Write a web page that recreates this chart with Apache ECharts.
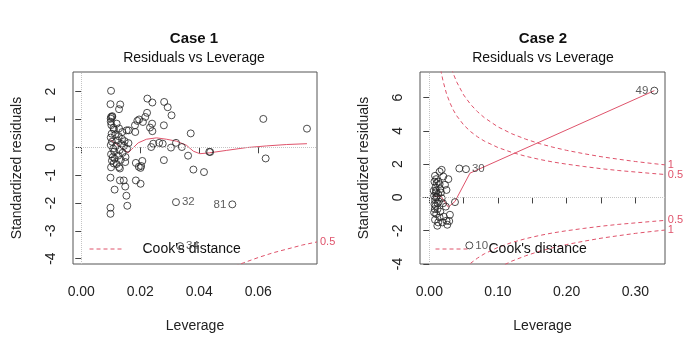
<!DOCTYPE html>
<html><head><meta charset="utf-8">
<script src="https://cdn.jsdelivr.net/npm/echarts@6/dist/echarts.min.js"></script>
<style>html,body{margin:0;padding:0;background:#fff}#c{width:694px;height:348px}</style>
</head><body><div id="c"></div><script>
// ---------- data ----------
const panelTitles = ['Case 1', 'Case 2'];
const subTitle = 'Residuals vs Leverage';
const xName = 'Leverage';
const yName = 'Standardized residuals';
const legendName = "Cook's distance";

const case1XTicks = [0, 0.02, 0.04, 0.06];
const case1YTicks = [-4, -3, -2, -1, 0, 1, 2];
const case2XTicks = [0, 0.05, 0.10, 0.15, 0.20, 0.25, 0.30];
const case2XLabels = [0, 0.10, 0.20, 0.30];
const case2YTicks = [-4, -2, 0, 2, 4, 6];

const case1Points = [
 [0.0101,2.03],[0.0099,1.55],[0.0132,1.54],[0.0128,1.37],[0.0101,1.09],[0.0105,1.09],[0.0100,1.03],
 [0.0120,0.85],[0.0111,0.64],[0.0103,0.49],[0.0139,0.55],[0.0154,0.61],[0.0161,0.61],[0.0182,0.79],
 [0.0183,0.55],[0.0224,1.75],[0.0241,1.61],[0.0281,1.63],[0.0293,1.44],[0.0306,1.15],[0.0223,1.24],
 [0.0217,1.09],[0.0209,0.91],[0.0240,0.85],[0.0233,0.71],[0.0241,0.58],[0.0280,0.79],[0.0237,0.01],
 [0.0244,0.13],[0.0264,0.16],[0.0276,0.13],[0.0304,-0.01],[0.0321,0.16],[0.0341,0.01],[0.0371,0.50],
 [0.0362,-0.30],[0.0280,-0.46],[0.0380,-0.80],[0.0416,-0.89],[0.0434,-0.16],[0.0437,-0.17],
 [0.0617,1.02],[0.0625,-0.40],[0.0765,0.67],[0.0099,-2.17],[0.0099,-2.39],
 [0.0156,-2.10],[0.0153,-1.74],[0.0113,-1.52],[0.0149,-1.41],[0.0099,-1.09],[0.0131,-1.19],[0.0144,-1.19],
 [0.0185,-1.19],[0.0201,-1.31],[0.0185,-0.56],[0.0195,-0.70],[0.0201,-0.74],[0.0203,-0.67],[0.0207,-0.49],
 [0.0101,-0.72],[0.0128,-0.71],[0.0131,-0.76],[0.0149,-0.53],[0.0107,-0.35],[0.0113,-0.41],
 [0.0100,0.92],[0.0102,0.80],[0.0100,0.35],[0.0104,0.20],[0.0100,0.08],[0.0108,-0.05],[0.0112,-0.15],
 [0.0101,-0.25],[0.0104,-0.48],[0.0110,-0.58],[0.0118,0.05],[0.0122,0.25],[0.0127,0.40],[0.0130,-0.10],
 [0.0135,0.12],[0.0140,-0.20],[0.0145,0.05],[0.0150,-0.35],[0.0125,-0.30],[0.0115,0.45],[0.0138,0.30],
 [0.0147,0.22],[0.0155,-0.05],[0.0160,0.15],[0.0120,-0.60],[0.0109,0.70],[0.0128,0.68],[0.0134,-0.45],
 [0.0105,1.12],[0.0190,0.95],[0.0196,1.00]
];
const case1Labelled = [[0.0321,-1.97,'32','right'],[0.0512,-2.05,'81','left'],[0.0335,-3.55,'34','right']];
const case1Smooth = [
 [0.0097,0.28],[0.0125,0.07],[0.0148,-0.11],[0.0159,-0.20],[0.0170,-0.08],[0.0193,0.16],[0.0221,0.29],
 [0.0255,0.34],[0.0289,0.29],[0.0323,0.22],[0.0357,0.07],[0.0380,-0.14],[0.0402,-0.23],[0.0434,-0.20],
 [0.0493,-0.11],[0.0560,-0.01],[0.0628,0.05],[0.0696,0.10],[0.0765,0.13]
];
const case1CookLev = [0.052, 0.055, 0.060, 0.065, 0.070, 0.075, 0.0799];
const case1CookLowHalf = [-4.28, -4.15, -3.96, -3.79, -3.65, -3.51, -3.40];

const case2Points = [
 [0.0437,1.74],[0.0374,-0.28],
 [0.0180,1.66],[0.0150,1.55],[0.0083,1.30],[0.0204,1.26],[0.0277,1.10],[0.0107,0.86],[0.0228,0.76],
 [0.0090,0.60],[0.0160,0.50],[0.0250,0.45],[0.0095,0.30],[0.0130,0.20],[0.0070,0.10],[0.0110,0.05],
 [0.0180,-0.05],[0.0085,-0.15],[0.0140,-0.25],[0.0200,-0.35],[0.0090,-0.50],[0.0240,-0.55],[0.0120,-0.70],
 [0.0160,-0.85],[0.0300,-1.04],[0.0210,-1.15],[0.0083,-1.34],[0.0130,-1.50],[0.0250,-1.40],[0.0290,-1.42],
 [0.0117,-1.70],[0.0262,-1.64],[0.0075,0.95],[0.0100,1.10],[0.0130,0.95],[0.0065,0.40],[0.0075,-0.40],
 [0.0070,-0.90],[0.0100,-1.00],[0.0150,0.80],[0.0170,0.30],[0.0100,0.40],[0.0080,-0.70],[0.0150,-1.20],
 [0.0190,-1.50],[0.0095,0.00],[0.0120,-0.35]
];
const case2Labelled = [[0.3277,6.42,'49','left'],[0.0534,1.70,'30','right'],[0.0583,-2.88,'10','right']];
const case2Smooth = [
 [0.0060,0.10],[0.0083,0.06],[0.0110,0.02],[0.0131,-0.04],[0.0165,0.10],[0.0204,-0.14],[0.0277,-0.58],
 [0.0374,-0.24],[0.0592,1.46],[0.3277,6.42]
];
const case2CookLev = [0.015,0.0175,0.02,0.025,0.03,0.035,0.04,0.05,0.06,0.07,0.08,0.10,0.12,0.14,0.16,0.18,0.20,0.225,0.25,0.275,0.30,0.325,0.343];
const case2CookUpHalf = [8.10,7.49,7.00,6.24,5.69,5.25,4.90,4.36,3.96,3.65,3.39,3.00,2.71,2.48,2.29,2.13,2.00,1.86,1.73,1.62,1.53,1.44,1.38];
const case2CookUpOne  = [11.45,10.59,9.90,8.83,8.04,7.43,6.93,6.16,5.60,5.16,4.80,4.24,3.83,3.51,3.24,3.02,2.83,2.63,2.45,2.30,2.16,2.04,1.96];
const case2CookLowHalf = [-8.10,-7.49,-7.00,-6.24,-5.69,-5.25,-4.90,-4.36,-3.96,-3.65,-3.39,-3.00,-2.71,-2.48,-2.29,-2.13,-2.00,-1.86,-1.73,-1.62,-1.53,-1.44,-1.38];
const case2CookLowOne  = [-11.45,-10.59,-9.90,-8.83,-8.04,-7.43,-6.93,-6.16,-5.60,-5.16,-4.80,-4.24,-3.83,-3.51,-3.24,-3.02,-2.83,-2.63,-2.45,-2.30,-2.16,-2.04,-1.96];

// ---------- chart ----------
const RED = '#DF536B';
const FONT = '"Liberation Sans", Arial, Helvetica, sans-serif';
const zip = (xs, ys) => xs.map((x, i) => [x, ys[i]]);

function xAxisCfg(gi, min, max, ticks, labels) {
  return {
    gridIndex: gi, type: 'value', min, max,
    name: xName, nameLocation: 'middle', nameGap: 55,
    nameTextStyle: { fontFamily: FONT, fontSize: 14, color: '#222' },
    axisLine: { show: false },
    axisTick: { show: true, length: 6, customValues: ticks, lineStyle: { color: '#444' } },
    axisLabel: { customValues: labels, margin: 21, fontFamily: FONT, fontSize: 14, color: '#222',
                 formatter: v => v.toFixed(2) },
    splitLine: { show: false }
  };
}
function yAxisCfg(gi, min, max, ticks) {
  return {
    gridIndex: gi, type: 'value', min, max,
    name: yName, nameLocation: 'middle', nameGap: 49, nameRotate: 90,
    nameTextStyle: { fontFamily: FONT, fontSize: 14, color: '#222' },
    axisLine: { show: false },
    axisTick: { show: true, length: 6, customValues: ticks, lineStyle: { color: '#444' } },
    axisLabel: { customValues: ticks, rotate: 90, margin: 15, fontFamily: FONT, fontSize: 14, color: '#222',
                 formatter: v => String(v) },
    splitLine: { show: false }
  };
}
function pointSeries(gi, data) {
  return {
    type: 'scatter', xAxisIndex: gi, yAxisIndex: gi, data, symbol: 'circle', symbolSize: 7,
    itemStyle: { color: 'rgba(0,0,0,0)', borderColor: '#222', borderWidth: 1 },
    silent: true, z: 3,
    markLine: {
      silent: true, symbol: 'none', label: { show: false }, animation: false,
      lineStyle: { color: '#c4c4c4', type: 'dotted', width: 1 },
      data: [{ yAxis: 0 }, { xAxis: 0 }]
    }
  };
}
function labelledSeries(gi, items) {
  return {
    type: 'scatter', xAxisIndex: gi, yAxisIndex: gi, symbol: 'circle', symbolSize: 7, silent: true, z: 4,
    itemStyle: { color: 'rgba(0,0,0,0)', borderColor: '#222', borderWidth: 1 },
    data: items.map(d => ({
      value: [d[0], d[1]],
      label: { show: true, formatter: d[2], position: d[3], distance: 2,
               fontFamily: FONT, fontSize: 11.5, color: '#333' }
    }))
  };
}
function smoothSeries(gi, data) {
  return { type: 'line', xAxisIndex: gi, yAxisIndex: gi, data, symbol: 'none', silent: true, z: 2,
           lineStyle: { color: RED, width: 1 } };
}
function cookSeries(gi, xs, ys, lbl) {
  return {
    name: legendName, type: 'line', xAxisIndex: gi, yAxisIndex: gi, data: zip(xs, ys),
    symbol: 'none', silent: true, z: 2, clip: true,
    lineStyle: { color: RED, width: 1, type: [4, 3] },
    itemStyle: { color: RED },
    endLabel: { show: true, formatter: lbl, color: RED, fontFamily: FONT, fontSize: 11, distance: 3 }
  };
}
function titleCfg(text, x, top, size, weight) {
  return { text, left: x, top, textAlign: 'center', padding: 0,
           textStyle: { fontFamily: FONT, fontSize: size, fontWeight: weight, color: '#111' } };
}
function legendCfg(left) {
  return {
    data: [legendName], left, top: 242, padding: 0, itemWidth: 33, itemHeight: 14,
    selectedMode: false,
    itemStyle: { opacity: 0 },
    lineStyle: { color: RED, width: 1, type: [4, 3] },
    textStyle: { fontFamily: FONT, fontSize: 14, color: '#111', padding: [0, 0, 0, 15] }
  };
}

const chart = echarts.init(document.getElementById('c'), null, { renderer: 'canvas' });
chart.setOption({
  animation: false,
  backgroundColor: '#fff',
  title: [
    titleCfg(panelTitles[0], 194, 31, 15, 'bold'),
    titleCfg(subTitle, 194, 51, 14, 'normal'),
    titleCfg(panelTitles[1], 543, 31, 15, 'bold'),
    titleCfg(subTitle, 543, 51, 14, 'normal')
  ],
  legend: [legendCfg(89), legendCfg(435)],
  grid: [
    { left: 73, top: 72, width: 244, height: 192, show: true, borderColor: '#555', borderWidth: 1, containLabel: false },
    { left: 420, top: 72, width: 245, height: 192, show: true, borderColor: '#555', borderWidth: 1, containLabel: false }
  ],
  xAxis: [
    xAxisCfg(0, -0.0028, 0.0799, case1XTicks, case1XTicks),
    xAxisCfg(1, -0.01355, 0.3432, case2XTicks, case2XLabels)
  ],
  yAxis: [
    yAxisCfg(0, -4.193, 2.706, case1YTicks),
    yAxisCfg(1, -4, 7.54, case2YTicks)
  ],
  series: [
    pointSeries(0, case1Points),
    labelledSeries(0, case1Labelled),
    smoothSeries(0, case1Smooth),
    cookSeries(0, case1CookLev, case1CookLowHalf, '0.5'),
    pointSeries(1, case2Points),
    labelledSeries(1, case2Labelled),
    smoothSeries(1, case2Smooth),
    cookSeries(1, case2CookLev, case2CookUpOne, '1'),
    cookSeries(1, case2CookLev, case2CookUpHalf, '0.5'),
    cookSeries(1, case2CookLev, case2CookLowHalf, '0.5'),
    cookSeries(1, case2CookLev, case2CookLowOne, '1')
  ]
});
</script></body></html>
